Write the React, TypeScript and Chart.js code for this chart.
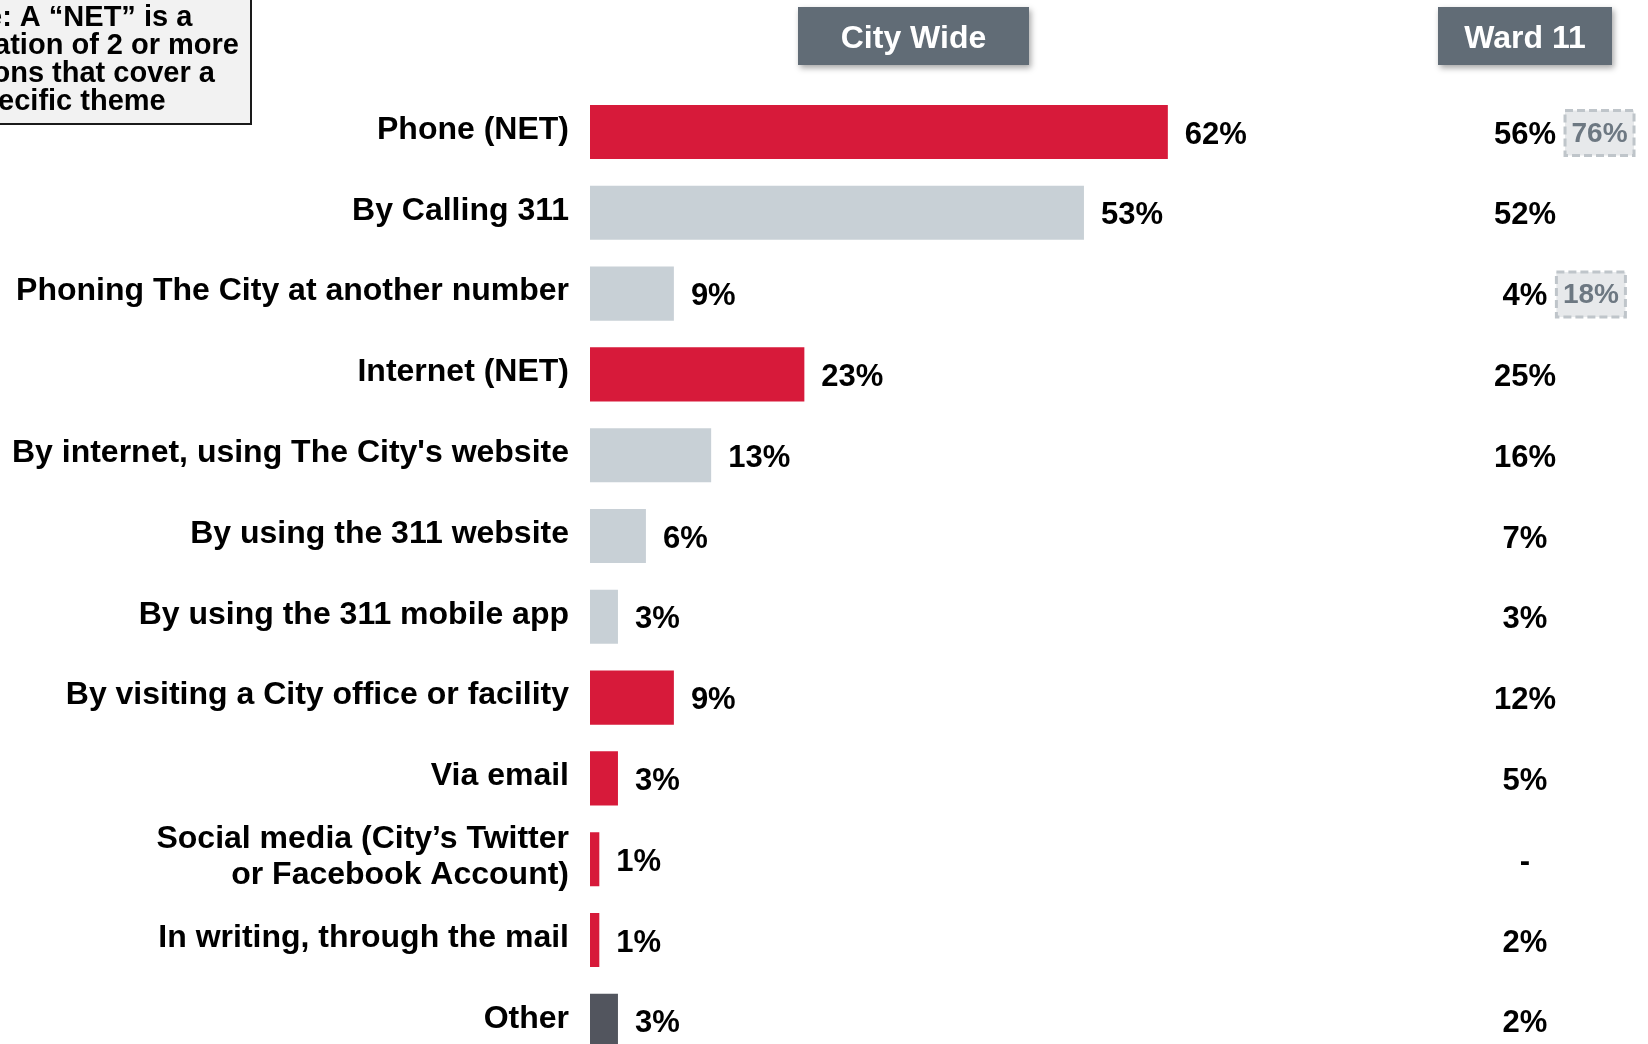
import React, { useEffect, useRef } from "react";
import { Chart, registerables } from "chart.js";

Chart.register(...registerables);

const categories: (string | string[])[] = [
  "Phone (NET)",
  "By Calling 311",
  "Phoning The City at another number",
  "Internet (NET)",
  "By internet, using The City's website",
  "By using the 311 website",
  "By using the 311 mobile app",
  "By visiting a City office or facility",
  "Via email",
  ["Social media (City’s Twitter", "or Facebook Account)"],
  "In writing, through the mail",
  "Other",
];
const cityWide = [62, 53, 9, 23, 13, 6, 3, 9, 3, 1, 1, 3];
const ward11: (number | null)[] = [56, 52, 4, 25, 16, 7, 3, 12, 5, null, 2, 2];
const ward11Highlight: (number | null)[] = [76, null, 18, null, null, null, null, null, null, null, null, null];
const rowKind = ["net", "sub", "sub", "net", "sub", "sub", "sub", "net", "net", "net", "net", "other"];
const headers = ["City Wide", "Ward 11"];
const noteLines = ["Note: A “NET” is a", "combination of 2 or more", "mentions that cover a", "specific theme"];

const FONT = "'Liberation Sans', Arial, Helvetica, sans-serif";
const kindColor: Record<string, string> = { net: "#d71a3a", sub: "#c8d0d6", other: "#52555e" };

const overlayPlugin = {
  id: "overlay",
  afterDraw(chart: any) {
    const ctx = chart.ctx as CanvasRenderingContext2D;
    const x = chart.scales.x;
    const y = chart.scales.y;
    ctx.save();

    // note box
    ctx.fillStyle = "#f2f2f2";
    ctx.fillRect(-300, -10, 551, 134);
    ctx.strokeStyle = "#1a1a1a";
    ctx.lineWidth = 2;
    ctx.strokeRect(-300, -10, 551, 134);
    ctx.font = `bold 29px ${FONT}`;
    ctx.fillStyle = "#000";
    ctx.textAlign = "center";
    ctx.textBaseline = "alphabetic";
    const cx = 239 - ctx.measureText(noteLines[1]).width / 2;
    noteLines.forEach((l, i) => ctx.fillText(l, cx, 26 + i * 28));

    // header boxes
    const hb = [
      { x0: 798, x1: 1029 },
      { x0: 1438, x1: 1612 },
    ];
    hb.forEach((b, i) => {
      ctx.save();
      ctx.shadowColor = "rgba(0,0,0,0.35)";
      ctx.shadowBlur = 6;
      ctx.shadowOffsetX = 2;
      ctx.shadowOffsetY = 3;
      ctx.fillStyle = "#616c76";
      ctx.fillRect(b.x0, 7, b.x1 - b.x0, 58);
      ctx.restore();
      ctx.fillStyle = "#ffffff";
      ctx.font = `bold 32px ${FONT}`;
      ctx.textAlign = "center";
      ctx.textBaseline = "middle";
      ctx.fillText(headers[i], (b.x0 + b.x1) / 2, 39);
    });

    // city wide values
    ctx.font = `bold 31px ${FONT}`;
    ctx.fillStyle = "#000";
    ctx.textBaseline = "middle";
    cityWide.forEach((v, i) => {
      const px = x.getPixelForValue(v);
      const py = y.getPixelForValue(i);
      ctx.textAlign = "left";
      ctx.fillText(`${v}%`, px + 17, py + 3);
    });

    // ward 11 values
    const wardX = 1525;
    ward11.forEach((v, i) => {
      const py = y.getPixelForValue(i);
      ctx.font = `bold 31px ${FONT}`;
      ctx.fillStyle = "#000";
      ctx.textAlign = "center";
      const t = v === null ? "-" : `${v}%`;
      ctx.fillText(t, wardX, py + 3);
      const h = ward11Highlight[i];
      if (h !== null && h !== undefined) {
        const w = ctx.measureText(t).width;
        const bx = wardX + w / 2 + 9;
        const bw = 69;
        const bh = 45;
        const by = py - bh / 2 + 1;
        ctx.fillStyle = "#e7e9eb";
        ctx.fillRect(bx, by, bw, bh);
        ctx.setLineDash([8, 4]);
        ctx.lineWidth = 3;
        ctx.strokeStyle = "#bfc5ca";
        ctx.strokeRect(bx, by, bw, bh);
        ctx.setLineDash([]);
        ctx.font = `bold 28px ${FONT}`;
        ctx.fillStyle = "#6d7882";
        ctx.fillText(`${h}%`, bx + bw / 2, py + 2);
      }
    });
    ctx.restore();
  },
};

export default function App() {
  const ref = useRef<HTMLCanvasElement>(null);
  useEffect(() => {
    document.body.style.margin = "0";
    const chart = new Chart(ref.current!, {
      type: "bar",
      data: {
        labels: categories,
        datasets: [
          {
            data: cityWide,
            backgroundColor: rowKind.map((k) => kindColor[k]),
            borderWidth: 0,
            categoryPercentage: 1,
            barPercentage: 0.67,
          },
        ],
      },
      options: {
        indexAxis: "y",
        animation: false,
        responsive: false,
        maintainAspectRatio: false,
        layout: { padding: { top: 91.6, bottom: 8.8, left: 0, right: 126 } },
        plugins: { legend: { display: false }, tooltip: { enabled: false } },
        scales: {
          x: { display: false, min: 0, max: 100 },
          y: {
            grid: { display: false, drawTicks: false },
            border: { display: false },
            afterFit: (s: any) => {
              s.width = 590;
              s.paddingTop = 0;
              s.paddingBottom = 0;
            },
            ticks: {
              color: "#000",
              padding: 21,
              labelOffset: -2,
              font: { family: FONT, size: 32, weight: "bold", lineHeight: 1.15 },
            },
          },
        },
      },
      plugins: [overlayPlugin],
    } as any);
    return () => chart.destroy();
  }, []);
  return (
    <div style={{ position: "fixed", left: 0, top: 0, width: 1648, height: 1044, overflow: "hidden", background: "#fff" }}>
      <canvas ref={ref} width={1648} height={1070} style={{ display: "block" }} />
    </div>
  );
}
